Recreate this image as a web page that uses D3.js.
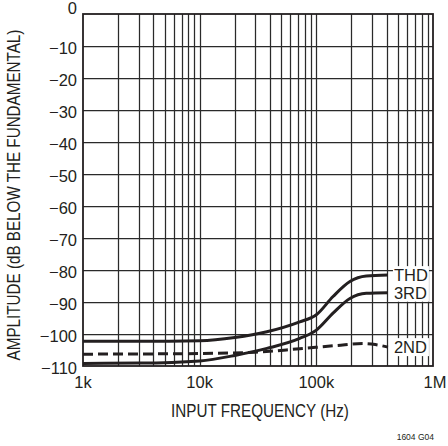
<!DOCTYPE html>
<html>
<head>
<meta charset="utf-8">
<script src="https://cdn.jsdelivr.net/npm/d3@7"></script>
<style>
  html, body { margin: 0; padding: 0; background: #fff; }
  svg { display: block; }
  text { font-family: "Liberation Sans", Arial, sans-serif; fill: #231f20; }
</style>
</head>
<body>
<svg id="chart" width="448" height="446"></svg>
<script>
// --- data ---
const freqMain = [1e3, 3e3, 10e3, 20e3, 37.7e3, 72e3, 100e3, 139e3, 194e3, 268e3, 411e3];
const thd      = [-102.3, -102.3, -102.1, -101.1, -99.3, -96.2, -94.0, -88.3, -83.6, -81.9, -81.6];
const third    = [-109.2, -109.1, -108.4, -106.7, -104.5, -101.4, -98.8, -93.5, -88.9, -87.3, -87.1];
const freq2nd  = [1e3, 10e3, 30e3, 72e3, 150e3, 250e3, 320e3, 411e3];
const second   = [-106.3, -106.1, -105.7, -104.6, -103.6, -103.0, -103.3, -104.1];

const yTicks = d3.range(0, -111, -10);
const xTicks = [1e3, 1e4, 1e5, 1e6];
const xTickLabels = ["1k", "10k", "100k", "1M"];
const seriesLabels = ["THD", "3RD", "2ND"];

// --- layout ---
const margin = { top: 14, left: 83 };
const iw = 350, ih = 352;
const narrow = 0.87; // condensed look for the axis titles

const svg = d3.select("#chart");
const g = svg.append("g").attr("transform", `translate(${margin.left},${margin.top})`);

const x = d3.scaleLog().domain([1e3, 1e6]).range([0, iw]);
const y = d3.scaleLinear().domain([0, -110]).range([0, ih]);

// grid: every 1..9 of each decade
const vGrid = [];
for (let dec = 1e3; dec < 1e6; dec *= 10) for (let m = 1; m < 10; m++) vGrid.push(dec * m);

g.selectAll(".vgrid").data(vGrid.slice(1)).enter().append("line")
  .attr("x1", d => Math.round(x(d)) + 0.5).attr("x2", d => Math.round(x(d)) + 0.5)
  .attr("y1", 0).attr("y2", ih)
  .attr("stroke", "#2a2a2a").attr("stroke-width", 1.25);

g.selectAll(".hgrid").data(yTicks.slice(1, -1)).enter().append("line")
  .attr("x1", 0).attr("x2", iw)
  .attr("y1", d => Math.round(y(d)) + 0.5).attr("y2", d => Math.round(y(d)) + 0.5)
  .attr("stroke", "#2a2a2a").attr("stroke-width", 1.25);

// curves
const line = d3.line().x(d => x(d[0])).y(d => y(d[1])).curve(d3.curveMonotoneX);
const curves = [
  { pts: d3.zip(freqMain, thd), dash: null },
  { pts: d3.zip(freqMain, third), dash: null },
  { pts: d3.zip(freq2nd, second), dash: "10,5" }
];
g.selectAll(".curve").data(curves).enter().append("path")
  .attr("d", d => line(d.pts))
  .attr("fill", "none")
  .attr("stroke", "#231f20")
  .attr("stroke-width", 3)
  .attr("stroke-dasharray", d => d.dash);

// series labels with white backing
const labelPos = [
  { f: freqMain[freqMain.length - 1], v: thd[thd.length - 1] },
  { f: freqMain[freqMain.length - 1], v: third[third.length - 1] },
  { f: freq2nd[freq2nd.length - 1], v: second[second.length - 1] }
];
const lab = g.selectAll(".slab").data(seriesLabels).enter().append("g");
lab.append("rect")
  .attr("x", (d, i) => x(labelPos[i].f) + 5)
  .attr("y", (d, i) => y(labelPos[i].v) - 9)
  .attr("width", 36).attr("height", 18)
  .attr("fill", "#fff");
lab.append("text")
  .attr("x", (d, i) => x(labelPos[i].f) + 6)
  .attr("y", (d, i) => y(labelPos[i].v))
  .attr("dy", "0.36em")
  .attr("font-size", 16.5)
  .text(d => d);

// frame
g.append("rect").attr("x", 0).attr("y", 0).attr("width", iw).attr("height", ih)
  .attr("fill", "none").attr("stroke", "#231f20").attr("stroke-width", 1.8);

// y tick labels
g.selectAll(".ytl").data(yTicks).enter().append("text")
  .attr("x", -6)
  .attr("y", d => y(d) + (d === 0 ? -5.5 : 2.5))
  .attr("dy", "0.36em")
  .attr("text-anchor", "end")
  .attr("font-size", 16.5)
  .text(d => d === 0 ? "0" : "\u2212" + Math.abs(d));

// x tick labels
g.selectAll(".xtl").data(xTicks).enter().append("text")
  .attr("x", (d, i) => x(d) + (i === 3 ? 2 : 0))
  .attr("y", ih + 22)
  .attr("text-anchor", "middle")
  .attr("font-size", 16.5)
  .text((d, i) => xTickLabels[i]);

// axis titles
g.append("text")
  .attr("transform", `translate(${iw / 2 + 2},${ih + 51}) scale(${narrow},1)`)
  .attr("text-anchor", "middle")
  .attr("font-size", 17.5)
  .text("INPUT FREQUENCY (Hz)");

svg.append("text")
  .attr("transform", `translate(20,195) rotate(-90) scale(${narrow},1)`)
  .attr("text-anchor", "middle")
  .attr("font-size", 17.5)
  .text("AMPLITUDE (dB BELOW THE FUNDAMENTAL)");

svg.append("text")
  .attr("x", 434).attr("y", 440)
  .attr("text-anchor", "end")
  .attr("font-size", 8.5)
  .text("1604 G04");
</script>
</body>
</html>
